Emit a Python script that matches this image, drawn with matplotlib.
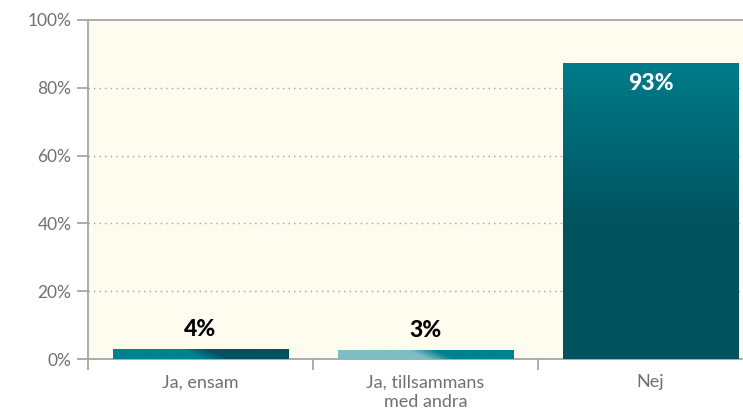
import matplotlib
matplotlib.use("Agg")
import matplotlib.pyplot as plt
import numpy as np
from matplotlib.colors import LinearSegmentedColormap
from matplotlib.patches import Rectangle

categories = ["Ja, ensam", "Ja, tillsammans\nmed andra", "Nej"]
values = [2.9, 2.7, 87.3]
value_labels = ["4%", "3%", "93%"]
yticks = [0, 20, 40, 60, 80, 100]
ytick_labels = ["0%", "20%", "40%", "60%", "80%", "100%"]

plt.rcParams['font.family'] = ['Lato', 'DejaVu Sans']

fig = plt.figure(figsize=(7.43, 4.12), dpi=100)
ax = fig.add_axes([88/743, 53/412, 1 - 88/743, (359-20)/412])
ax.set_facecolor("#FEFBEF")

bw = 0.78
ax.set_xlim(-0.5, 2.5 - 20/225)
ax.set_ylim(0, 100)

cmaps = [
    LinearSegmentedColormap.from_list("c1", ["#00818F", "#00818F", "#00525E", "#00525E"], N=256),
    LinearSegmentedColormap.from_list("c2", ["#7FBCC4", "#7FBCC4", "#00818F", "#00818F"], N=256),
]

for i, (v, lab) in enumerate(zip(values, value_labels)):
    x0 = i - bw/2
    rect = Rectangle((x0, 0), bw, v, facecolor="none", edgecolor="none", zorder=3)
    ax.add_patch(rect)
    if i < 2:
        nx, ny = 400, 20
        xx, yy = np.meshgrid(np.linspace(0, 1, nx), np.linspace(0, 1, ny))
        t = np.clip((xx + 0.12*(yy-0.5) - 0.45) / 0.15, 0, 1)
        t = 0.33 + 0.34*t
        img = ax.imshow(t, cmap=cmaps[i], vmin=0, vmax=1, extent=(x0, x0+bw, 0, v),
                        origin="lower", aspect="auto", zorder=3, interpolation="bilinear")
        img.set_clip_path(rect)
        ax.text(i, v + 2.6, lab, ha="center", va="bottom", fontsize=16.5, fontweight="black",
                color="black", zorder=5)
    else:
        ny = 300
        yy = np.linspace(0, 1, ny).reshape(-1, 1)
        cm = LinearSegmentedColormap.from_list("c3", ["#00525E", "#00525E", "#007B89"], N=256)
        t = np.where(yy < 0.45, 0.0, (yy - 0.45)/0.55)
        cvals = 0.5 + 0.5*t
        img = ax.imshow(cvals, cmap=cm, vmin=0, vmax=1, extent=(x0, x0+bw, 0, v),
                        origin="lower", aspect="auto", zorder=3, interpolation="bilinear")
        img.set_clip_path(rect)
        ax.text(i, v - 3.0, lab, ha="center", va="top", fontsize=16.5, fontweight="black",
                color="white", zorder=5)

gray = "#A6A6A6"
for s in ["left", "bottom", "top"]:
    ax.spines[s].set_color(gray)
    ax.spines[s].set_linewidth(1.3)
ax.spines["right"].set_visible(False)

ax.set_yticks(yticks)
ax.set_yticklabels(ytick_labels)
ax.tick_params(axis="y", length=8, width=1.3, color=gray, labelcolor="#707070",
               labelsize=12.5, pad=4)

ax.set_xticks(range(len(categories)))
ax.set_xticklabels(categories)
ax.tick_params(axis="x", which="major", length=0, labelcolor="#707070", labelsize=13, pad=11)
ax.set_xticks([-0.5, 0.5, 1.5], minor=True)
ax.tick_params(axis="x", which="minor", length=8, width=1.3, color=gray)
for lbl in ax.get_xticklabels():
    lbl.set_linespacing(1.3)

for y in yticks[1:-1]:
    ax.axhline(y, color="#A0A0A0", linestyle=(0, (1, 3)), linewidth=1.0, zorder=1)

fig.savefig("out.png", dpi=100)
